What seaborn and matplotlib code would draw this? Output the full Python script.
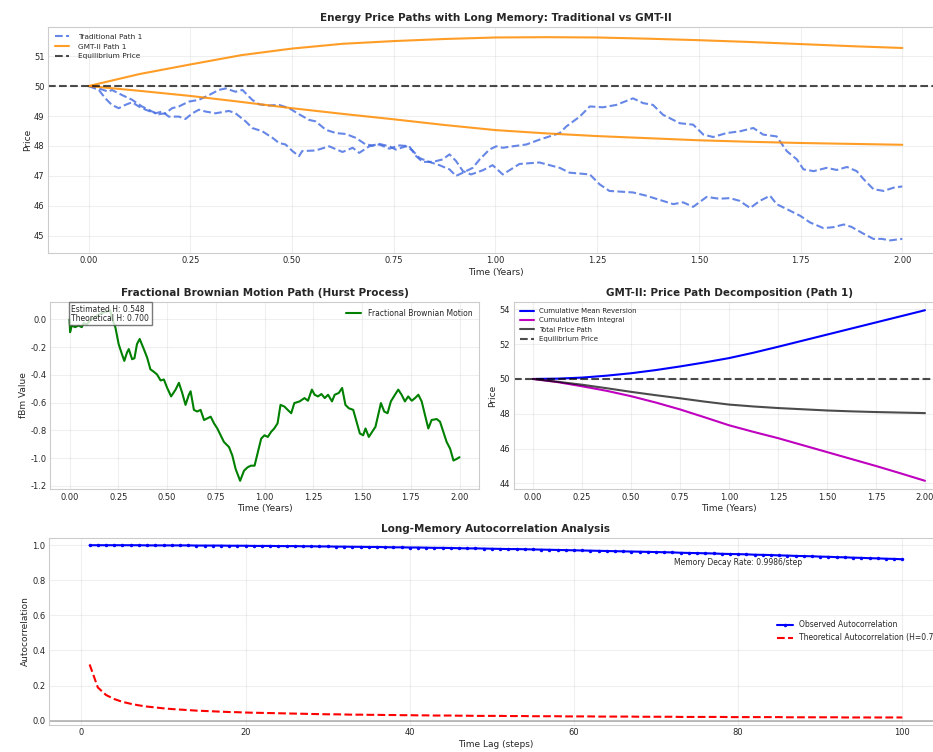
import matplotlib
matplotlib.use("Agg")
import matplotlib.pyplot as plt
import seaborn as sns
import numpy as np

# values
trad1_t = [0.000, 0.025, 0.049, 0.057, 0.082, 0.107, 0.131, 0.156, 0.172, 0.189,
           0.205, 0.222, 0.246, 0.271, 0.296, 0.320, 0.337, 0.361, 0.378, 0.402,
           0.419, 0.443, 0.468, 0.493, 0.517, 0.542, 0.558, 0.583, 0.608, 0.632,
           0.657, 0.681, 0.698, 0.714, 0.739, 0.755, 0.780, 0.796, 0.813, 0.837,
           0.862, 0.887, 0.903, 0.920, 0.944, 0.961, 0.985, 1.002, 1.018, 1.043,
           1.076, 1.108, 1.133, 1.158, 1.174, 1.207, 1.232, 1.264, 1.297, 1.338,
           1.363, 1.387, 1.412, 1.453, 1.486, 1.511, 1.535, 1.568, 1.601, 1.634,
           1.658, 1.691, 1.716, 1.741, 1.757, 1.782, 1.814, 1.839, 1.864, 1.888,
           1.905, 1.929, 1.954, 1.979, 2.000]
trad1_p = [50.00, 49.92, 49.81, 49.87, 49.70, 49.54, 49.32, 49.15, 49.06, 49.09,
           49.26, 49.32, 49.48, 49.54, 49.70, 49.87, 49.92, 49.81, 49.87, 49.54,
           49.39, 49.35, 49.37, 49.26, 49.06, 48.87, 48.82, 48.54, 48.43, 48.40,
           48.27, 48.05, 48.02, 48.07, 47.99, 47.88, 47.99, 47.85, 47.60, 47.47,
           47.36, 47.22, 47.00, 47.11, 47.27, 47.55, 47.88, 47.99, 47.94, 47.99,
           48.05, 48.21, 48.32, 48.43, 48.65, 48.98, 49.32, 49.29, 49.37, 49.59,
           49.43, 49.37, 49.04, 48.76, 48.71, 48.38, 48.30, 48.43, 48.49, 48.60,
           48.38, 48.32, 47.83, 47.55, 47.22, 47.16, 47.27, 47.20, 47.30, 47.16,
           46.89, 46.56, 46.50, 46.61, 46.65]

trad2_t = [0.000, 0.025, 0.041, 0.057, 0.074, 0.090, 0.107, 0.123, 0.140, 0.164,
           0.181, 0.197, 0.222, 0.238, 0.255, 0.271, 0.287, 0.312, 0.345, 0.361,
           0.386, 0.402, 0.427, 0.452, 0.468, 0.484, 0.501, 0.517, 0.525, 0.558,
           0.591, 0.624, 0.649, 0.665, 0.690, 0.714, 0.739, 0.764, 0.788, 0.805,
           0.821, 0.846, 0.870, 0.887, 0.903, 0.920, 0.940, 0.969, 0.993, 1.018,
           1.059, 1.108, 1.158, 1.182, 1.232, 1.256, 1.280, 1.338, 1.371, 1.437,
           1.461, 1.486, 1.519, 1.550, 1.576, 1.600, 1.626, 1.650, 1.675, 1.691,
           1.724, 1.749, 1.773, 1.806, 1.830, 1.856, 1.875, 1.905, 1.929, 1.950,
           1.970, 2.000]
trad2_p = [50.00, 49.87, 49.59, 49.37, 49.26, 49.37, 49.46, 49.32, 49.21, 49.09,
           49.15, 48.98, 48.98, 48.90, 49.09, 49.21, 49.15, 49.09, 49.17, 49.09,
           48.82, 48.60, 48.49, 48.27, 48.10, 48.05, 47.83, 47.66, 47.83, 47.85,
           47.99, 47.80, 47.94, 47.77, 47.99, 48.05, 47.91, 48.02, 47.99, 47.66,
           47.47, 47.47, 47.55, 47.72, 47.50, 47.16, 47.05, 47.19, 47.36, 47.05,
           47.40, 47.45, 47.27, 47.11, 47.05, 46.72, 46.50, 46.45, 46.34, 46.06,
           46.12, 45.97, 46.30, 46.24, 46.26, 46.17, 45.93, 46.17, 46.34, 46.06,
           45.84, 45.67, 45.45, 45.26, 45.29, 45.38, 45.30, 45.07, 44.90, 44.90,
           44.85, 44.90]

gmt_t = [0.0, 0.125, 0.25, 0.375, 0.5, 0.625, 0.75, 0.875, 1.0,
         1.125, 1.25, 1.375, 1.5, 1.625, 1.75, 1.875, 2.0]
gmt1_p = [50.0, 49.84, 49.67, 49.47, 49.26, 49.07, 48.89, 48.70, 48.53,
          48.42, 48.33, 48.26, 48.19, 48.14, 48.10, 48.07, 48.04]
gmt2_p = [50.0, 50.40, 50.72, 51.03, 51.25, 51.41, 51.50, 51.57, 51.62,
          51.63, 51.62, 51.58, 51.53, 51.47, 51.40, 51.33, 51.27]

mean_rev = [50.0, 50.02, 50.08, 50.19, 50.33, 50.51, 50.72, 50.95, 51.20,
            51.51, 51.85, 52.20, 52.55, 52.90, 53.25, 53.60, 53.95]
fbm_int = [50.0, 49.82, 49.58, 49.32, 49.01, 48.65, 48.25, 47.80, 47.34,
           46.96, 46.60, 46.20, 45.80, 45.40, 45.00, 44.58, 44.15]

fbm_t = [0.000, 0.003, 0.012, 0.029, 0.046, 0.063, 0.072, 0.089, 0.106, 0.132,
         0.158, 0.184, 0.209, 0.218, 0.235, 0.252, 0.269, 0.281, 0.295, 0.304,
         0.321, 0.333, 0.346, 0.360, 0.381, 0.398, 0.415, 0.432, 0.449, 0.467,
         0.484, 0.501, 0.521, 0.544, 0.561, 0.578, 0.595, 0.612, 0.621, 0.638,
         0.655, 0.672, 0.690, 0.707, 0.724, 0.741, 0.758, 0.775, 0.792, 0.818,
         0.835, 0.852, 0.875, 0.895, 0.913, 0.930, 0.949, 0.966, 0.983, 1.000,
         1.017, 1.034, 1.050, 1.067, 1.082, 1.102, 1.119, 1.137, 1.153, 1.180,
         1.205, 1.223, 1.243, 1.257, 1.274, 1.292, 1.309, 1.326, 1.346, 1.360,
         1.381, 1.398, 1.415, 1.432, 1.455, 1.472, 1.489, 1.506, 1.518, 1.535,
         1.552, 1.569, 1.583, 1.597, 1.614, 1.631, 1.648, 1.669, 1.686, 1.703,
         1.720, 1.737, 1.755, 1.772, 1.789, 1.806, 1.823, 1.840, 1.857, 1.883,
         1.900, 1.917, 1.934, 1.952, 1.969, 1.986, 2.000]
fbm_v = [0.0, -0.092, -0.044, -0.056, -0.044, -0.056, -0.027, -0.036, -0.007, 0.017,
         0.041, 0.054, 0.066, 0.005, -0.056, -0.178, -0.251, -0.299, -0.238, -0.214,
         -0.287, -0.280, -0.178, -0.141, -0.214, -0.275, -0.360, -0.377, -0.397, -0.440,
         -0.433, -0.494, -0.555, -0.506, -0.457, -0.530, -0.616, -0.543, -0.518, -0.652,
         -0.664, -0.652, -0.725, -0.713, -0.701, -0.749, -0.786, -0.835, -0.883, -0.920,
         -0.981, -1.078, -1.163, -1.090, -1.066, -1.054, -1.054, -0.956, -0.859, -0.835,
         -0.847, -0.810, -0.786, -0.749, -0.616, -0.628, -0.652, -0.676, -0.603, -0.591,
         -0.567, -0.586, -0.506, -0.543, -0.555, -0.538, -0.567, -0.543, -0.591, -0.543,
         -0.530, -0.494, -0.616, -0.640, -0.652, -0.737, -0.822, -0.835, -0.786, -0.847,
         -0.810, -0.774, -0.689, -0.603, -0.664, -0.676, -0.591, -0.543, -0.506, -0.543,
         -0.591, -0.555, -0.586, -0.567, -0.543, -0.591, -0.689, -0.786, -0.725, -0.718,
         -0.737, -0.810, -0.883, -0.932, -1.017, -1.005, -0.993]

lags = list(range(1, 101))
acf_obs = [1.000, 1.000, 1.000, 1.000, 1.000, 1.000, 1.000, 0.999, 0.999, 0.999,
           0.999, 0.999, 0.999, 0.998, 0.998, 0.998, 0.998, 0.997, 0.997, 0.997,
           0.996, 0.996, 0.996, 0.995, 0.995, 0.995, 0.994, 0.994, 0.993, 0.993,
           0.992, 0.992, 0.991, 0.991, 0.990, 0.990, 0.989, 0.988, 0.988, 0.987,
           0.987, 0.986, 0.985, 0.985, 0.984, 0.983, 0.982, 0.982, 0.981, 0.980,
           0.979, 0.978, 0.978, 0.977, 0.976, 0.975, 0.974, 0.973, 0.972, 0.971,
           0.970, 0.969, 0.968, 0.967, 0.966, 0.965, 0.964, 0.963, 0.962, 0.961,
           0.960, 0.959, 0.957, 0.956, 0.955, 0.954, 0.953, 0.951, 0.950, 0.949,
           0.948, 0.946, 0.945, 0.944, 0.942, 0.941, 0.939, 0.938, 0.937, 0.935,
           0.934, 0.932, 0.931, 0.929, 0.928, 0.926, 0.925, 0.923, 0.922, 0.920]
acf_theory = [0.320, 0.189, 0.146, 0.123, 0.107, 0.096, 0.087, 0.080, 0.075, 0.070,
              0.066, 0.063, 0.060, 0.057, 0.055, 0.053, 0.051, 0.049, 0.048, 0.046,
              0.045, 0.044, 0.043, 0.042, 0.041, 0.040, 0.039, 0.038, 0.037, 0.036,
              0.036, 0.035, 0.034, 0.034, 0.033, 0.033, 0.032, 0.032, 0.031, 0.031,
              0.030, 0.030, 0.029, 0.029, 0.029, 0.028, 0.028, 0.027, 0.027, 0.027,
              0.027, 0.026, 0.026, 0.026, 0.025, 0.025, 0.025, 0.025, 0.024, 0.024,
              0.024, 0.024, 0.023, 0.023, 0.023, 0.023, 0.023, 0.022, 0.022, 0.022,
              0.022, 0.022, 0.021, 0.021, 0.021, 0.021, 0.021, 0.021, 0.020, 0.020,
              0.020, 0.020, 0.020, 0.020, 0.020, 0.019, 0.019, 0.019, 0.019, 0.019,
              0.019, 0.019, 0.018, 0.018, 0.018, 0.018, 0.018, 0.018, 0.018, 0.018]

equilibrium = 50

sns.set_style("whitegrid")
plt.rcParams["font.family"] = ["DejaVu Sans"]
plt.rcParams["axes.unicode_minus"] = False
plt.rcParams["xtick.labelsize"] = 6
plt.rcParams["ytick.labelsize"] = 6
plt.rcParams["xtick.major.size"] = 0
plt.rcParams["ytick.major.size"] = 0
plt.rcParams["xtick.major.pad"] = 2.5
plt.rcParams["ytick.major.pad"] = 2.5
plt.rcParams["axes.labelsize"] = 6.5
plt.rcParams["axes.titlesize"] = 7.5
plt.rcParams["axes.titleweight"] = "bold"
plt.rcParams["axes.titlepad"] = 4
plt.rcParams["axes.labelpad"] = 1.5

fig = plt.figure(figsize=(9.33, 7.52), dpi=100)

# 1. traditional vs GMT-II price paths
ax1 = fig.add_axes([0.0514, 0.6636, 0.9593, 0.3005])
sns.lineplot(x=trad1_t, y=trad1_p, ax=ax1, color="royalblue", alpha=0.8,
             linestyle="--", lw=1.5, label="Traditional Path 1", sort=False, estimator=None)
sns.lineplot(x=trad2_t, y=trad2_p, ax=ax1, color="royalblue", alpha=0.8,
             linestyle="--", lw=1.5, sort=False, estimator=None)
sns.lineplot(x=gmt_t, y=gmt1_p, ax=ax1, color="darkorange", alpha=0.85,
             lw=1.5, label="GMT-II Path 1", sort=False, estimator=None)
sns.lineplot(x=gmt_t, y=gmt2_p, ax=ax1, color="darkorange", alpha=0.85,
             lw=1.5, sort=False, estimator=None)
ax1.axhline(equilibrium, color="black", linestyle="--", alpha=0.7, lw=1.5,
            label="Equilibrium Price")
ax1.set_xlim(-0.1, 2.1)
ax1.set_ylim(44.43, 51.97)
ax1.set_title("Energy Price Paths with Long Memory: Traditional vs GMT-II")
ax1.set_xlabel("Time (Years)")
ax1.set_ylabel("Price")
ax1.legend(loc="upper left", fontsize=5.3, frameon=False, handletextpad=1.2)
ax1.grid(True, alpha=0.3)

# 2. fractional brownian motion path
ax2 = fig.add_axes([0.0536, 0.3493, 0.4598, 0.2495])
sns.lineplot(x=fbm_t, y=fbm_v, ax=ax2, color="green", lw=1.5,
             label="Fractional Brownian Motion", sort=False, estimator=None)
ax2.set_xticks([0, 0.25, 0.5, 0.75, 1.0, 1.25, 1.5, 1.75, 2.0])
ax2.set_title("Fractional Brownian Motion Path (Hurst Process)")
ax2.set_xlabel("Time (Years)")
ax2.set_ylabel("fBm Value")
ax2.text(0.05, 0.985, "Estimated H: 0.548\nTheoretical H: 0.700",
         transform=ax2.transAxes, va="top", fontsize=5.5, linespacing=1.0,
         bbox=dict(boxstyle="square,pad=0.3", facecolor="white", edgecolor="0.35", alpha=0.8))
ax2.legend(loc="upper right", fontsize=5.5, frameon=False)
ax2.grid(True, alpha=0.3)

# 3. GMT-II decomposition
ax3 = fig.add_axes([0.5504, 0.3493, 0.462, 0.2495])
sns.lineplot(x=gmt_t, y=mean_rev, ax=ax3, color="blue", lw=1.5,
             label="Cumulative Mean Reversion", sort=False, estimator=None)
sns.lineplot(x=gmt_t, y=fbm_int, ax=ax3, color="m", lw=1.5,
             label="Cumulative fBm Integral", sort=False, estimator=None)
sns.lineplot(x=gmt_t, y=gmt1_p, ax=ax3, color="black", alpha=0.7, lw=1.5,
             label="Total Price Path", sort=False, estimator=None)
ax3.axhline(equilibrium, color="black", linestyle="--", alpha=0.7, lw=1.5,
            label="Equilibrium Price")
ax3.set_xticks([0, 0.25, 0.5, 0.75, 1.0, 1.25, 1.5, 1.75, 2.0])
ax3.set_title("GMT-II: Price Path Decomposition (Path 1)")
ax3.set_xlabel("Time (Years)")
ax3.set_ylabel("Price")
ax3.legend(loc="upper left", fontsize=5, frameon=False)
ax3.grid(True, alpha=0.3)

# 4. autocorrelation
ax4 = fig.add_axes([0.0525, 0.0359, 0.9582, 0.2491])
sns.lineplot(x=lags, y=acf_obs, ax=ax4, color="blue", lw=1.5, marker="o",
             markersize=2.5, markeredgewidth=0, label="Observed Autocorrelation",
             sort=False, estimator=None)
sns.lineplot(x=lags, y=acf_theory, ax=ax4, color="red", lw=1.5, linestyle="--",
             label="Theoretical Autocorrelation (H=0.7)", sort=False, estimator=None)
ax4.axhline(0, color="gray", alpha=0.6, lw=1.2)
ax4.set_xlim(-3.95, 104.95)
ax4.set_ylim(-0.025, 1.043)
ax4.text(80, 0.9, "Memory Decay Rate: 0.9986/step", ha="center", va="center", fontsize=5.5)
ax4.set_title("Long-Memory Autocorrelation Analysis")
ax4.set_xlabel("Time Lag (steps)")
ax4.set_ylabel("Autocorrelation")
ax4.legend(loc="center right", fontsize=5.5, frameon=False)
ax4.grid(True, alpha=0.3)

fig.savefig("out.png", dpi=100)
